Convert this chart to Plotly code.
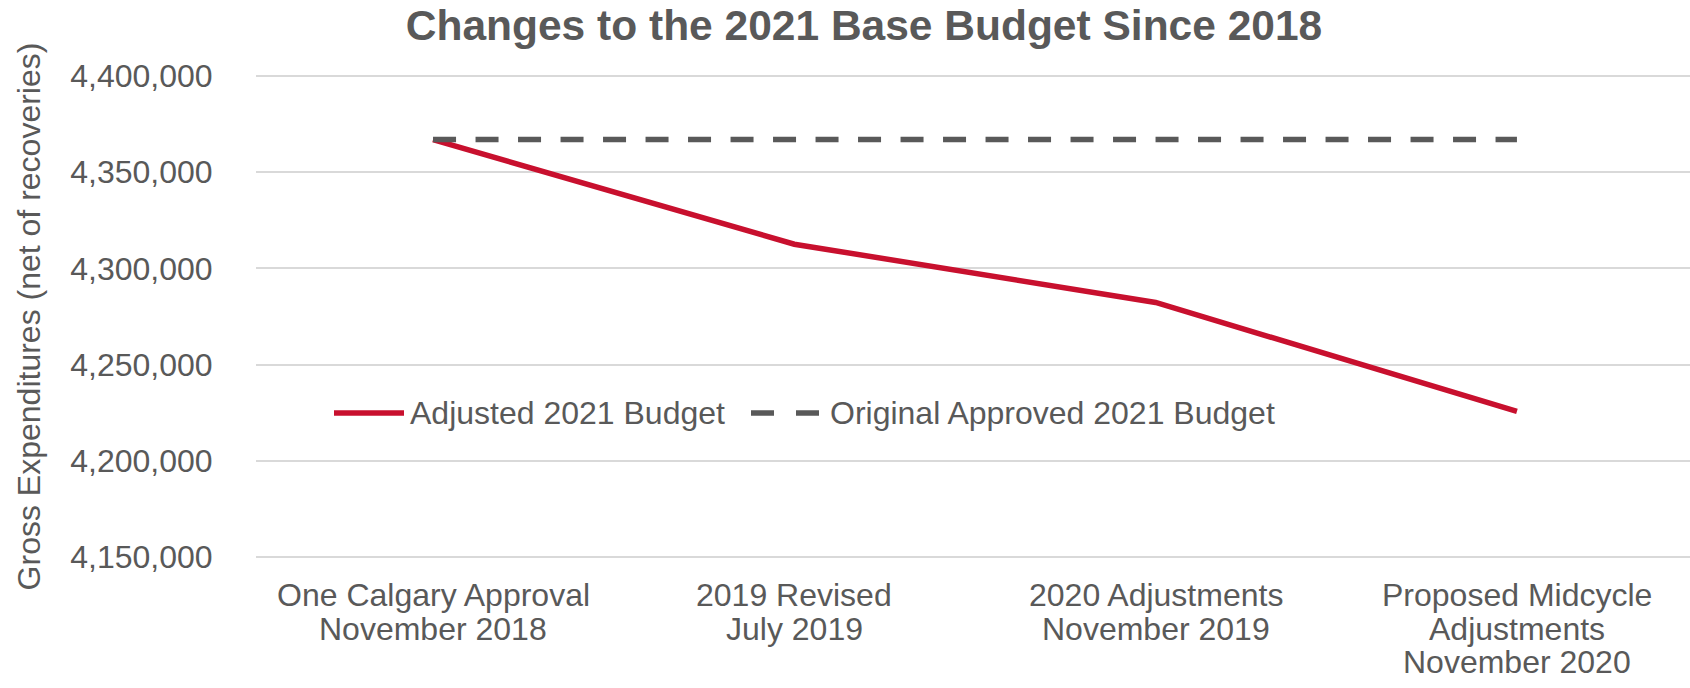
import plotly.graph_objects as go

categories = [
    "One Calgary Approval<br>November 2018",
    "2019 Revised<br>July 2019",
    "2020 Adjustments<br>November 2019",
    "Proposed Midcycle<br>Adjustments<br>November 2020",
]
adjusted_budget = [4367000, 4312600, 4282300, 4225600]
original_budget = [4367000, 4367000, 4367000, 4367000]
y_ticks = [4150000, 4200000, 4250000, 4300000, 4350000, 4400000]

RED = "#C8102E"
GREY = "#595959"
FONT = "Liberation Sans, Arial, sans-serif"
TXT = 32

W, H = 1690, 688
ML, MR, MT, MB = 256, 0, 75, 130
PW, PH = W - ML - MR, H - MT - MB

def px_x(px):
    return (px - ML) / PW

def px_y(py):
    return (H - MB - py) / PH

x_idx = list(range(len(categories)))

fig = go.Figure()
fig.add_trace(go.Scatter(
    x=x_idx, y=adjusted_budget, mode="lines", name="Adjusted 2021 Budget",
    line=dict(color=RED, width=5.5), showlegend=False,
))
fig.add_trace(go.Scatter(
    x=x_idx, y=original_budget, mode="lines", name="Original Approved 2021 Budget",
    line=dict(color=GREY, width=5.5, dash="23px,19.5px"), showlegend=False,
))

# category labels, one annotation per line for tight line spacing
line_rows = [595, 628.5, 662]
for i, label in enumerate(categories):
    for j, part in enumerate(label.split("<br>")):
        fig.add_annotation(text=part, xref="x", yref="paper", x=i, y=px_y(line_rows[j]),
                           xanchor="center", yanchor="middle", showarrow=False,
                           font=dict(size=TXT, color=GREY, family=FONT))

# legend drawn as key lines plus labels
legend_y = px_y(413)
fig.add_shape(type="line", xref="paper", yref="paper",
              x0=px_x(334), x1=px_x(404), y0=legend_y, y1=legend_y,
              line=dict(color=RED, width=5.5))
fig.add_shape(type="line", xref="paper", yref="paper",
              x0=px_x(751), x1=px_x(819), y0=legend_y, y1=legend_y,
              line=dict(color=GREY, width=5.5, dash="23px,22px"))
fig.add_annotation(text="Adjusted 2021 Budget", xref="paper", yref="paper",
                   x=px_x(408), y=legend_y, xanchor="left", yanchor="middle",
                   showarrow=False, font=dict(size=TXT, color=GREY, family=FONT))
fig.add_annotation(text="Original Approved 2021 Budget", xref="paper", yref="paper",
                   x=px_x(828), y=legend_y, xanchor="left", yanchor="middle",
                   showarrow=False, font=dict(size=TXT, color=GREY, family=FONT))

fig.update_layout(
    width=W, height=H,
    margin=dict(l=ML, r=MR, t=MT, b=MB, pad=0),
    paper_bgcolor="white", plot_bgcolor="white",
    font=dict(family=FONT, color=GREY, size=TXT),
    title=dict(text="<b>Changes to the 2021 Base Budget Since 2018</b>",
               x=864 / W, xanchor="center", y=1 - 25 / H, yanchor="middle",
               font=dict(size=42.5, color=GREY, family=FONT)),
)
fig.update_xaxes(
    range=[-0.49, 3.479], showgrid=False, zeroline=False, showline=False,
    showticklabels=False, ticks="",
)
fig.update_yaxes(
    range=[4149400, 4400600], tickvals=y_ticks, tickformat=",d",
    showgrid=True, gridcolor="#D9D9D9", gridwidth=2, zeroline=False, showline=False,
    ticks="outside", ticklen=0, ticklabelstandoff=36,
    tickfont=dict(size=TXT, color=GREY),
    title=dict(text="Gross Expenditures (net of recoveries)", standoff=20,
               font=dict(size=TXT, color=GREY)),
)

fig.write_html("out.html")
